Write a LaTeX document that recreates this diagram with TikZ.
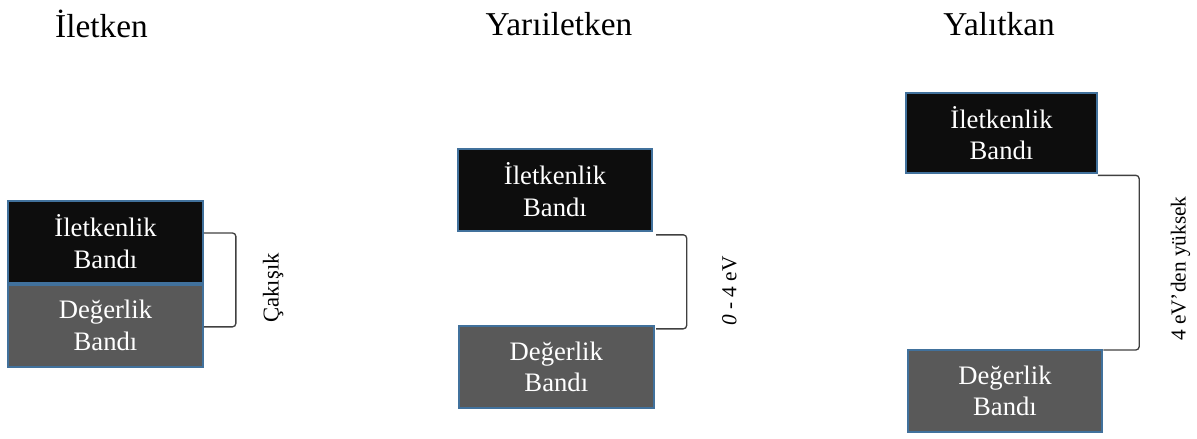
\documentclass[tikz,border=0pt]{standalone}
\usepackage{fontspec}
\setmainfont{Liberation Serif}
\usetikzlibrary{positioning,calc}

\definecolor{condfill}{HTML}{0D0D0D}
\definecolor{valfill}{HTML}{595959}
\definecolor{bandline}{HTML}{41719C}
\definecolor{brkline}{HTML}{404040}

\begin{document}
\begin{tikzpicture}[
  x=0.75pt, y=-0.75pt,
  band/.style={draw=bandline, line width=1.5pt, align=center, text=white,
               minimum width=146pt, minimum height=61.5pt, inner sep=2pt,
               font=\fontsize{20}{23.5}\selectfont},
  cond/.style={band, fill=condfill},
  val/.style={band, fill=valfill},
  head/.style={font=\fontsize{25}{29}\selectfont},
  brk/.style={draw=brkline, line width=1pt, rounded corners=2.5pt},
  gaplab/.style={rotate=90, font=\fontsize{16}{19}\selectfont}
]
\useasboundingbox (0,0) rectangle (1197,439);

% ---------------- titles ----------------
\node[head] (tmetal) at (101.5,24) {İletken};
\node[head] (tsemi) at (559,24) {Yarıiletken};
\node[head] (tins) at (999,24) {Yalıtkan};

% ---------------- conductor: bands overlap ----------------
\node[cond] (metalC) at (105.5,241.5) {İletkenlik\\Bandı};
\node[val, below=0pt of metalC] (metalV) {Değerlik\\Bandı};

% ---------------- semiconductor ----------------
\node[cond] (semiC) at (555,189.5) {İletkenlik\\Bandı};
\node[val, below=70pt of semiC, xshift=1pt] (semiV) {Değerlik\\Bandı};

% ---------------- insulator ----------------
\node[cond, minimum width=143pt, minimum height=60pt] (insC) at (1001.5,133) {İletkenlik\\Bandı};
\node[val, below=131pt of insC, xshift=2.6pt] (insV) {Değerlik\\Bandı};

% ---------------- gap brackets ----------------
\draw[brk] ([yshift=6.4pt]metalC.east) -- ++(24pt,0)
  |- coordinate[pos=0.25] (gapA) ([yshift=-1pt]metalV.east);
\draw[brk] ([xshift=2pt,yshift=-2.5pt]semiC.south east) -- ++(23pt,0)
  |- coordinate[pos=0.25] (gapB) ([xshift=1pt,yshift=-3pt]semiV.north east);
\draw[brk] ([yshift=-1pt]insC.south east) -- ++(31pt,0)
  |- coordinate[pos=0.25] (gapC) ([yshift=-1pt]insV.north east);

\node[gaplab, font=\fontsize{17}{20}\selectfont] (lblA) at ([xshift=28pt,yshift=-6pt]gapA) {Çakışık};
\node[gaplab] (lblB) at ([xshift=32pt,yshift=-7pt]gapB) {\textit{0} - 4 eV};
\node[gaplab] (lblC) at ([xshift=31pt,yshift=-4.5pt]gapC) {4 eV’den yüksek};

\end{tikzpicture}
\end{document}
